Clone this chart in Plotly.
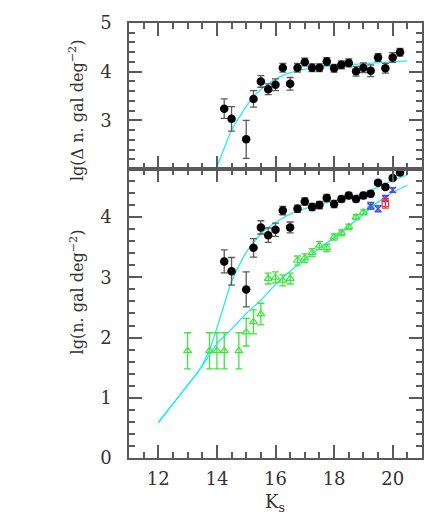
import plotly.graph_objects as go

# ---------------- data ----------------
# upper panel: excess counts (black)
top_x = [14.25, 14.5, 15.0, 15.25, 15.5, 15.75, 16.0, 16.25, 16.5, 16.75, 17.0, 17.25,
         17.5, 17.75, 18.0, 18.25, 18.5, 18.75, 19.0, 19.25, 19.5, 19.75, 20.0, 20.25]
top_y = [3.24, 3.03, 2.61, 3.44, 3.80, 3.64, 3.73, 4.08, 3.75, 4.08, 4.20, 4.08,
         4.08, 4.21, 4.07, 4.14, 4.18, 4.01, 4.08, 4.02, 4.29, 4.07, 4.29, 4.40]
top_err = [0.20, 0.25, 0.39, 0.17, 0.12, 0.11, 0.12, 0.09, 0.13, 0.09, 0.08, 0.08,
           0.08, 0.08, 0.08, 0.08, 0.08, 0.10, 0.10, 0.12, 0.08, 0.10, 0.10, 0.08]

# upper panel model curve
top_curve_x = [13.98, 14.23, 14.51, 14.85, 15.25, 15.71, 16.28, 16.85, 17.53, 18.0, 19.14, 20.5]
top_curve_y = [2.01, 2.40, 2.81, 3.15, 3.49, 3.73, 3.93, 4.03, 4.10, 4.12, 4.17, 4.22]

# lower panel: total counts (black)
tot_x = top_x
tot_y = [3.265, 3.10, 2.80, 3.49, 3.83, 3.70, 3.79, 4.11, 3.83, 4.14, 4.26, 4.17,
         4.20, 4.32, 4.22, 4.30, 4.36, 4.30, 4.36, 4.39, 4.57, 4.50, 4.65, 4.74]
tot_err = [0.19, 0.23, 0.29, 0.155, 0.11, 0.12, 0.11, 0.07, 0.09, 0.06, 0.06, 0.06,
           0.06, 0.06, 0.06, 0.05, 0.05, 0.05, 0.05, 0.05, 0.04, 0.04, 0.04, 0.04]

# lower panel: field counts (green)
fld_x = [13.0, 13.75, 14.0, 14.25, 14.75, 15.0, 15.25, 15.5, 15.75, 16.0, 16.25, 16.5,
         16.75, 17.0, 17.25, 17.5, 17.75, 18.0, 18.25, 18.5, 18.75, 19.0, 19.25]
fld_y = [1.78, 1.78, 1.78, 1.78, 1.78, 2.09, 2.26, 2.39, 2.98, 3.00, 2.95, 2.98,
         3.28, 3.32, 3.41, 3.53, 3.49, 3.67, 3.74, 3.84, 4.00, 4.08, 4.17]
fld_err = [0.30, 0.30, 0.30, 0.30, 0.30, 0.23, 0.20, 0.18, 0.09, 0.09, 0.09, 0.09,
           0.075, 0.07, 0.065, 0.065, 0.06, 0.05, 0.05, 0.045, 0.04, 0.04, 0.04]

# lower panel: other surveys
blue_x = [19.25, 19.5, 19.75, 20.0]
blue_y = [4.19, 4.14, 4.31, 4.45]
blue_err = [0.055, 0.05, 0.05, 0.04]
red_x = [19.75]
red_y = [4.23]
red_err = [0.08]

# lower panel model curves
curveA_x = [12.0, 12.5, 13.0, 13.4, 13.75, 14.0, 14.25, 14.5, 15.0, 15.5, 16.0, 16.5,
            17.0, 17.5, 18.0, 18.5, 19.0, 19.5, 20.0, 20.5]
curveA_y = [0.59, 0.90, 1.21, 1.46, 1.80, 2.16, 2.55, 2.93, 3.42, 3.72, 3.91, 4.05,
            4.14, 4.21, 4.27, 4.33, 4.40, 4.50, 4.61, 4.70]
curveB_x = [12.0, 12.5, 13.0, 13.4, 13.75, 14.0, 14.5, 15.0, 15.5, 16.0, 16.5, 17.0,
            17.5, 18.0, 18.5, 19.0, 19.5, 20.0, 20.5]
curveB_y = [0.59, 0.90, 1.21, 1.46, 1.72, 1.90, 2.14, 2.40, 2.62, 2.88, 3.10, 3.30,
            3.48, 3.66, 3.85, 4.05, 4.25, 4.41, 4.53]

x_ticks = [12, 14, 16, 18, 20]
low_y_ticks = [0, 1, 2, 3, 4]
top_y_ticks = [3, 4, 5]

# ---------------- style ----------------
AX = "#5a5a5a"
TXT = "#333333"
CYAN = "#22eef0"
GREEN = "#3ee63e"
FONT = "DejaVu Serif"

fig = go.Figure()

def curve(x, y, xa, ya):
    fig.add_trace(go.Scatter(x=x, y=y, mode="lines", xaxis=xa, yaxis=ya,
                             line=dict(color=CYAN, width=1.3, shape="spline", smoothing=0.6),
                             hoverinfo="skip", showlegend=False))

def pts(x, y, e, xa, ya, marker, ecol):
    fig.add_trace(go.Scatter(x=x, y=y, mode="markers", xaxis=xa, yaxis=ya,
                             marker=marker,
                             error_y=dict(type="data", array=e, visible=True,
                                          color=ecol, thickness=1.3, width=3.5),
                             showlegend=False))

# upper panel
curve(top_curve_x, top_curve_y, "x2", "y2")
pts(top_x, top_y, top_err, "x2", "y2",
    dict(color="black", size=8.5, symbol="circle"), AX)

# lower panel
curve(curveA_x, curveA_y, "x", "y")
curve(curveB_x, curveB_y, "x", "y")
pts(fld_x, fld_y, fld_err, "x", "y",
    dict(color=GREEN, size=7, symbol="triangle-up-open", line=dict(width=1.2, color=GREEN)), GREEN)
pts(blue_x, blue_y, blue_err, "x", "y",
    dict(color="#4a4aff", size=6, symbol="x-thin-open", line=dict(width=1.5, color="#4a4aff")), "#4a4aff")
pts(red_x, red_y, red_err, "x", "y",
    dict(color="#ff3030", size=6.5, symbol="square-open", line=dict(width=1.2, color="#ff3030")), "#ff3030")
pts(tot_x, tot_y, tot_err, "x", "y",
    dict(color="black", size=8.5, symbol="circle"), AX)

split = 293 / 441

common = dict(showline=True, linecolor=AX, linewidth=1.5, mirror="ticks",
              ticks="inside", ticklen=13, tickwidth=1.5, tickcolor=AX,
              showgrid=False, zeroline=False,
              tickfont=dict(family=FONT, size=18, color=TXT))

fig.update_layout(
    width=436, height=520,
    margin=dict(l=129, r=14, t=17, b=62),
    paper_bgcolor="white", plot_bgcolor="white",
    xaxis=dict(domain=[0, 1], anchor="y", range=[11, 21], tickvals=x_ticks,
               minor=dict(dtick=0.5, tick0=11, ticklen=6, ticks="inside",
                          tickcolor=AX, tickwidth=1.5),
               ticklabelstandoff=4, **common),
    yaxis=dict(domain=[0, split], anchor="x", range=[0, 4.8], tickvals=low_y_ticks,
               minor=dict(dtick=0.2, tick0=0, ticklen=6, ticks="inside",
                          tickcolor=AX, tickwidth=1.5),
               ticklabelstandoff=12, **common),
    xaxis2=dict(domain=[0, 1], anchor="y2", range=[11, 21], tickvals=x_ticks,
                showticklabels=False, matches="x",
                minor=dict(dtick=0.5, tick0=11, ticklen=6, ticks="inside",
                           tickcolor=AX, tickwidth=1.5),
                **common),
    yaxis2=dict(domain=[split, 1], anchor="x2", range=[2, 5], tickvals=top_y_ticks,
                minor=dict(dtick=0.2, tick0=0, ticklen=6, ticks="inside",
                           tickcolor=AX, tickwidth=1.5),
                ticklabelstandoff=12, **common),
    annotations=[
        dict(text="lg(Δ n. gal deg<sup>−2</sup>)", x=-0.1775, y=0.80,
             xref="paper", yref="paper", textangle=-90, showarrow=False,
             xanchor="center", yanchor="middle",
             font=dict(family=FONT, size=16, color=TXT)),
        dict(text="lg(n. gal deg<sup>−2</sup>)", x=-0.1775, y=0.383,
             xref="paper", yref="paper", textangle=-90, showarrow=False,
             xanchor="center", yanchor="middle",
             font=dict(family=FONT, size=16, color=TXT)),
        dict(text="K<sub>s</sub>", x=0.498, y=-0.0705,
             xref="paper", yref="paper", showarrow=False,
             xanchor="center", yanchor="top",
             font=dict(family=FONT, size=18, color=TXT)),
    ],
)

fig.write_html("out.html", config={"displayModeBar": False},
               post_script="document.body.style.margin='0';document.body.style.padding='0';")
